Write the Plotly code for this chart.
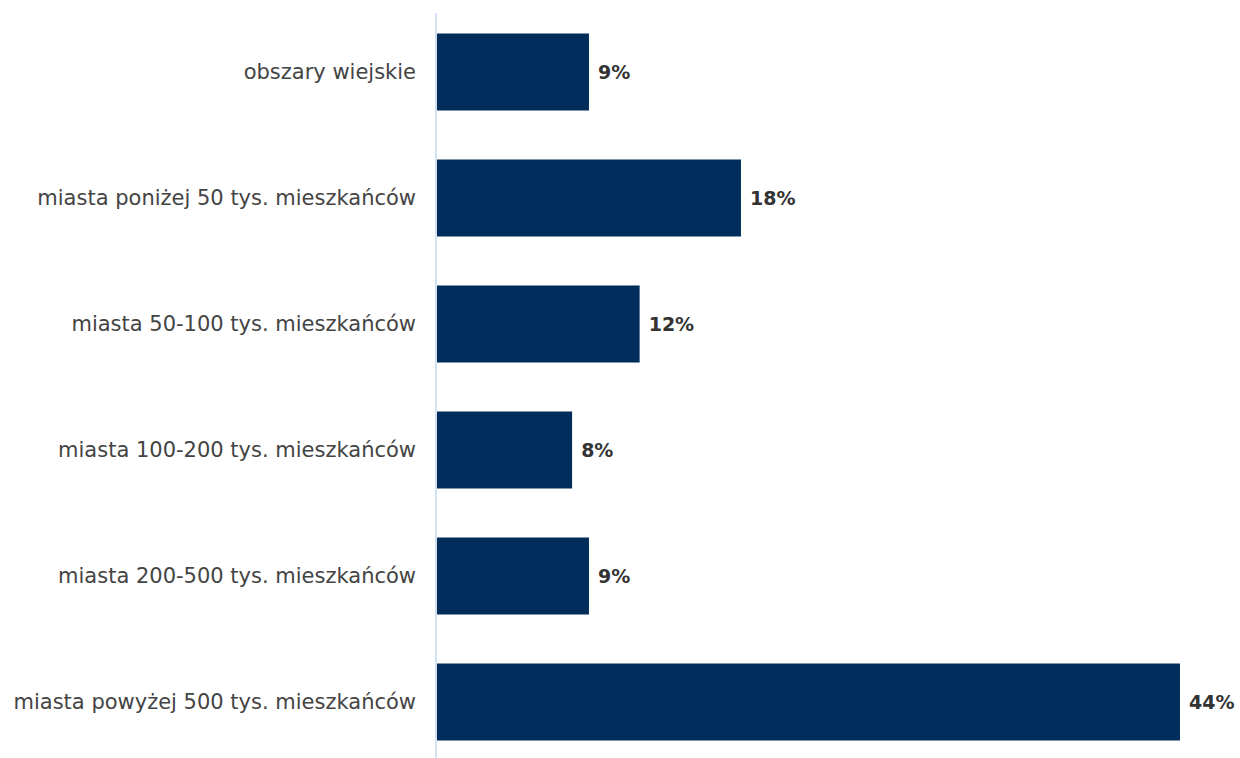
import plotly.graph_objects as go

categories = [
    "obszary wiejskie",
    "miasta poniżej 50 tys. mieszkańców",
    "miasta 50-100 tys. mieszkańców",
    "miasta 100-200 tys. mieszkańców",
    "miasta 200-500 tys. mieszkańców",
    "miasta powyżej 500 tys. mieszkańców",
]
values = [9, 18, 12, 8, 9, 44]
value_labels = ["9%", "18%", "12%", "8%", "9%", "44%"]

fig = go.Figure(go.Bar(
    x=values,
    y=categories,
    orientation="h",
    marker=dict(color="#002D5B", line=dict(width=0)),
    width=0.61,
    text=["\u00a0<b>" + t + "</b>" for t in value_labels],
    textposition="outside",
    constraintext="none",
    textfont=dict(family="DejaVu Sans", size=19, color="#333333"),
    cliponaxis=False,
))

fig.update_layout(
    width=1240, height=758,
    margin=dict(l=437, r=0, t=13, b=0),
    paper_bgcolor="white", plot_bgcolor="white",
    showlegend=False,
    xaxis=dict(range=[0, 803 / 16.886], visible=False, fixedrange=True),
    yaxis=dict(
        categoryorder="array", categoryarray=categories,
        range=[5.444, -0.468],
        showline=True, linecolor="#D3E2F2", linewidth=1.5,
        showgrid=False, ticks="", ticklabelstandoff=15,
        tickfont=dict(family="DejaVu Sans", size=21, color="#444444"),
    ),
)

fig.write_html("out.html")
